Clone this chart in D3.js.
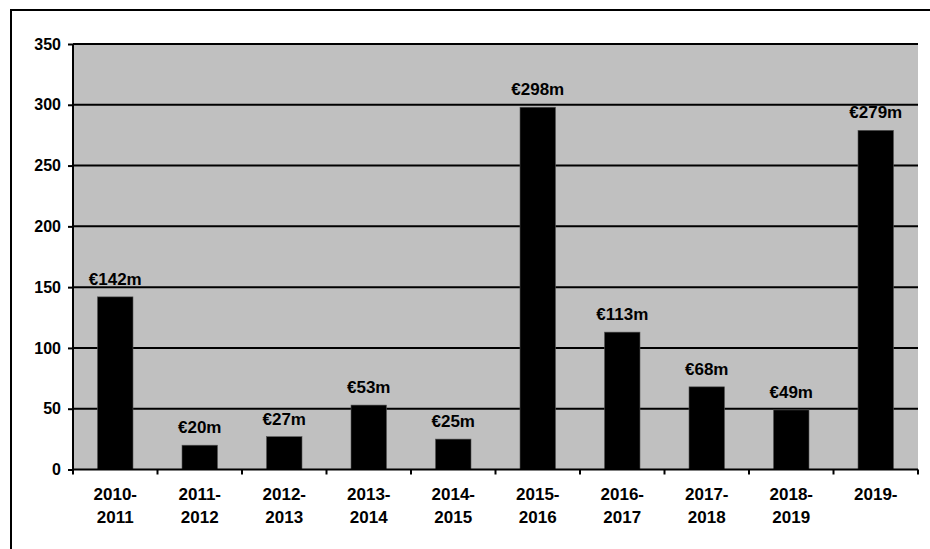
<!DOCTYPE html>
<html>
<head>
<meta charset="utf-8">
<script src="https://cdn.jsdelivr.net/npm/d3@7"></script>
<style>
  html, body { margin: 0; padding: 0; background: #fff; }
  svg { display: block; }
  text { font-family: "Liberation Sans", Arial, sans-serif; font-weight: bold; fill: #000; }
</style>
</head>
<body>
<svg id="chart" width="930" height="549"></svg>
<script>
const categories = ["2010-2011","2011-2012","2012-2013","2013-2014","2014-2015","2015-2016","2016-2017","2017-2018","2018-2019","2019-"];
const values = [142, 20, 27, 53, 25, 298, 113, 68, 49, 279];
const valueLabels = ["€142m","€20m","€27m","€53m","€25m","€298m","€113m","€68m","€49m","€279m"];
const yTicks = [0, 50, 100, 150, 200, 250, 300, 350];

(function () {
const svg = d3.select("#chart");
const pLeft = 73, pRight = 918, pTop = 44, pBottom = 469.5;

// outer frame (extends beyond right/bottom edges)
svg.append("rect").attr("x", 11).attr("y", 10).attr("width", 960).attr("height", 600)
  .attr("fill", "#fff").attr("stroke", "#000").attr("stroke-width", 2);

const pad = 0.58;
const x = d3.scaleBand().domain(categories).range([pLeft, pRight]).paddingInner(pad).paddingOuter(pad / 2);
const y = d3.scaleLinear().domain([0, 350]).range([pBottom, pTop]);

// plot area
svg.append("rect").attr("x", pLeft).attr("y", pTop).attr("width", pRight - pLeft).attr("height", pBottom - pTop)
  .attr("fill", "#c0c0c0");

// gridlines
svg.append("g").selectAll("line").data(yTicks.filter(d => d > 0)).join("line")
  .attr("x1", pLeft).attr("x2", pRight)
  .attr("y1", d => y(d)).attr("y2", d => y(d))
  .attr("stroke", "#000").attr("stroke-width", 2);

// bars
svg.append("g").selectAll("rect").data(values).join("rect")
  .attr("x", (d, i) => x(categories[i]))
  .attr("y", d => y(d))
  .attr("width", x.bandwidth())
  .attr("height", d => y(0) - y(d))
  .attr("fill", "#000")
  .attr("stroke", "#555").attr("stroke-width", 0.6);

// value labels
svg.append("g").selectAll("text").data(values).join("text")
  .attr("x", (d, i) => x(categories[i]) + x.bandwidth() / 2)
  .attr("y", d => y(d) - 12)
  .attr("text-anchor", "middle")
  .attr("font-size", 17)
  .text((d, i) => valueLabels[i]);

// y axis
const yAxis = d3.axisLeft(y).tickValues(yTicks).tickSize(5).tickPadding(7);
const gy = svg.append("g").attr("transform", `translate(${pLeft},0)`).call(yAxis);
gy.select(".domain").attr("stroke", "#000").attr("stroke-width", 2).attr("d", `M0,${pTop}V${pBottom + 1}`);
gy.selectAll(".tick line").attr("stroke", "#000").attr("stroke-width", 2);
gy.selectAll(".tick text").attr("font-size", 16).attr("font-family", "Liberation Sans, Arial, sans-serif")
  .attr("font-weight", "bold").attr("fill", "#000");

// x axis line
svg.append("line").attr("x1", pLeft - 1).attr("x2", pRight).attr("y1", y(0)).attr("y2", y(0))
  .attr("stroke", "#000").attr("stroke-width", 2);

// x ticks at category boundaries
const step = x.step();
const boundaries = d3.range(categories.length + 1).map(i => i === categories.length
  ? x(categories[i - 1]) + x.bandwidth() + step * pad / 2
  : x(categories[i]) - step * pad / 2);
svg.append("g").selectAll("line").data(boundaries).join("line")
  .attr("x1", d => d).attr("x2", d => d)
  .attr("y1", y(0)).attr("y2", y(0) + 5)
  .attr("stroke", "#000").attr("stroke-width", 2);

// x labels (two lines)
const xl = svg.append("g").selectAll("text").data(categories).join("text")
  .attr("text-anchor", "middle")
  .attr("font-size", 17)
  .attr("transform", d => `translate(${x(d) + x.bandwidth() / 2},0)`);
xl.each(function(d) {
  const m = d.match(/^(\d{4}-)(.*)$/);
  const parts = m ? [m[1], m[2]] : [d];
  const t = d3.select(this);
  parts.filter(p => p.length).forEach((p, j) => {
    t.append("tspan").attr("x", 0).attr("y", 500 + j * 23).text(p);
  });
});
})();
</script>
</body>
</html>
